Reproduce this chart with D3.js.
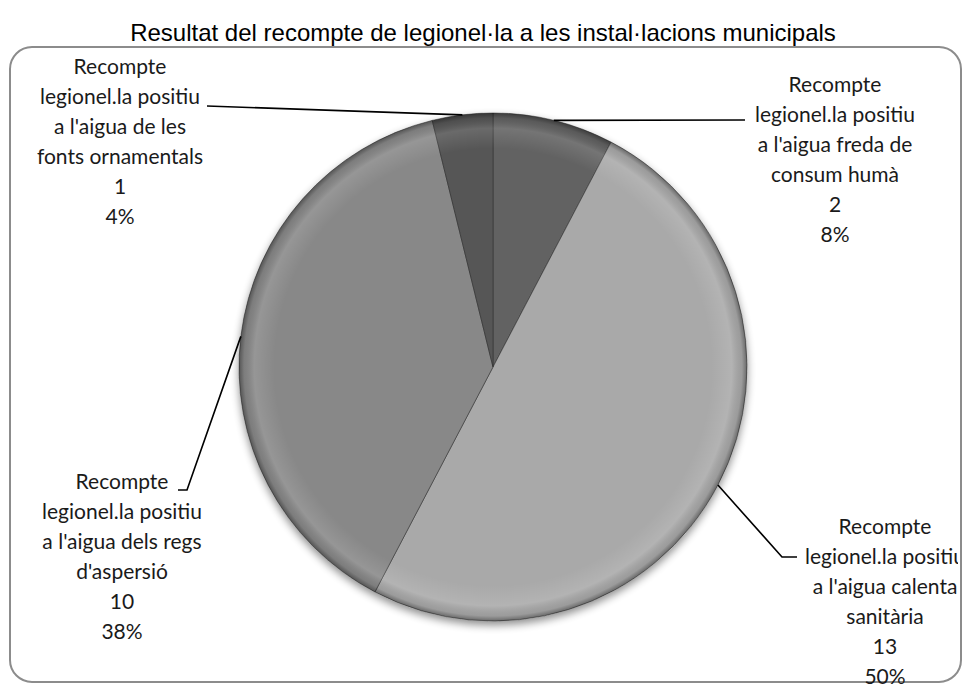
<!DOCTYPE html>
<html>
<head>
<meta charset="utf-8">
<script src="https://cdn.jsdelivr.net/npm/d3@7"></script>
<style>
  html, body { margin: 0; padding: 0; background: #fff; }
  svg { display: block; }
</style>
</head>
<body>
<svg id="chart" width="963" height="686"></svg>
<script>
// ---- data ----
const title = "Resultat del recompte de legionel·la a les instal·lacions municipals";
const categories = [
  "Recompte legionel.la positiu a l'aigua freda de consum humà",
  "Recompte legionel.la positiu a l'aigua calenta sanitària",
  "Recompte legionel.la positiu a l'aigua dels regs d'aspersió",
  "Recompte legionel.la positiu a l'aigua de les fonts ornamentals"
];
const values = [2, 13, 10, 1];
const labelLines = [
  ["Recompte", "legionel.la positiu", "a l'aigua freda de", "consum humà"],
  ["Recompte", "legionel.la positiu", "a l'aigua calenta", "sanitària"],
  ["Recompte", "legionel.la positiu", "a l'aigua dels regs", "d'aspersió"],
  ["Recompte", "legionel.la positiu", "a l'aigua de les", "fonts ornamentals"]
];
const fills = ["#626262", "#a9a9a9", "#888888", "#575757"];

// ---- layout ----
const W = 963, H = 686;
const cx = 493, cy = 367, R = 254;
const labelPos = [
  {x: 835, y: 85,  bend: [[745, 120]]},
  {x: 885, y: 527, bend: [[782, 557], [797, 557]]},
  {x: 122, y: 482, bend: [[187, 490], [178, 490]]},
  {x: 120, y: 67,  bend: [[207, 106]]}
];
const lineH = 30;

const svg = d3.select("#chart");
const defs = svg.append("defs");

defs.append("clipPath").attr("id", "area")
  .append("rect").attr("x", 10).attr("y", 46).attr("width", 948).attr("height", 640);

const f = defs.append("filter").attr("id", "shadow").attr("x", "-20%").attr("y", "-20%").attr("width", "140%").attr("height", "140%");
f.append("feGaussianBlur").attr("in", "SourceAlpha").attr("stdDeviation", 4).attr("result", "b");
f.append("feOffset").attr("in", "b").attr("dx", 0).attr("dy", 4).attr("result", "o");
f.append("feComponentTransfer").attr("in", "o").attr("result", "o2")
  .append("feFuncA").attr("type", "linear").attr("slope", 0.45);
const fm = f.append("feMerge");
fm.append("feMergeNode").attr("in", "o2");
fm.append("feMergeNode").attr("in", "SourceGraphic");

const rg = defs.append("radialGradient").attr("id", "bevel")
  .attr("gradientUnits", "userSpaceOnUse").attr("cx", cx).attr("cy", cy).attr("r", R);
[[0, "#fff", 0], [0.86, "#fff", 0], [0.94, "#fff", 0.12], [0.98, "#000", 0.08], [1, "#000", 0.38]]
  .forEach(([o, c, a]) => rg.append("stop").attr("offset", o).attr("stop-color", c).attr("stop-opacity", a));

// title
svg.append("text")
  .attr("x", 483).attr("y", 41)
  .attr("text-anchor", "middle")
  .attr("font-family", "Liberation Sans, Arial, sans-serif")
  .attr("font-size", 24)
  .attr("fill", "#000")
  .text(title);

// border
svg.append("rect")
  .attr("x", 10).attr("y", 47).attr("width", 951).attr("height", 635)
  .attr("rx", 22).attr("ry", 22)
  .attr("fill", "none").attr("stroke", "#8c8c8c").attr("stroke-width", 2);

const total = d3.sum(values);
const pie = d3.pie().sort(null).value(d => d)(values);
const arc = d3.arc().innerRadius(0).outerRadius(R);

const g = svg.append("g").attr("transform", `translate(${cx},${cy})`);
const pg = g.append("g").attr("filter", "url(#shadow)");
pg.selectAll("path.slice").data(pie).join("path")
  .attr("class", "slice")
  .attr("d", arc)
  .attr("fill", (d, i) => fills[i])
  .attr("stroke", "rgba(40,40,40,0.5)")
  .attr("stroke-width", 1);

svg.append("circle").attr("cx", cx).attr("cy", cy).attr("r", R)
  .attr("fill", "url(#bevel)").attr("pointer-events", "none");

const lab = svg.append("g").attr("clip-path", "url(#area)");
pie.forEach((d, i) => {
  const a = (d.startAngle + d.endAngle) / 2;
  const start = [cx + R * Math.sin(a), cy - R * Math.cos(a)];
  const pts = [start, ...labelPos[i].bend];
  lab.append("path")
    .attr("d", d3.line()(pts))
    .attr("fill", "none").attr("stroke", "#000").attr("stroke-width", 1.6);

  const lines = [...labelLines[i], String(values[i]), Math.round(values[i] / total * 100) + "%"];
  const t = lab.append("text")
    .attr("text-anchor", "middle")
    .attr("font-family", "Lato, 'Open Sans', sans-serif")
    .attr("font-size", 21)
    .attr("fill", "#1a1a1a");
  lines.forEach((s, k) => {
    t.append("tspan")
      .attr("x", labelPos[i].x)
      .attr("y", labelPos[i].y + k * lineH)
      .attr("dy", "0.35em")
      .text(s);
  });
});
</script>
</body>
</html>
